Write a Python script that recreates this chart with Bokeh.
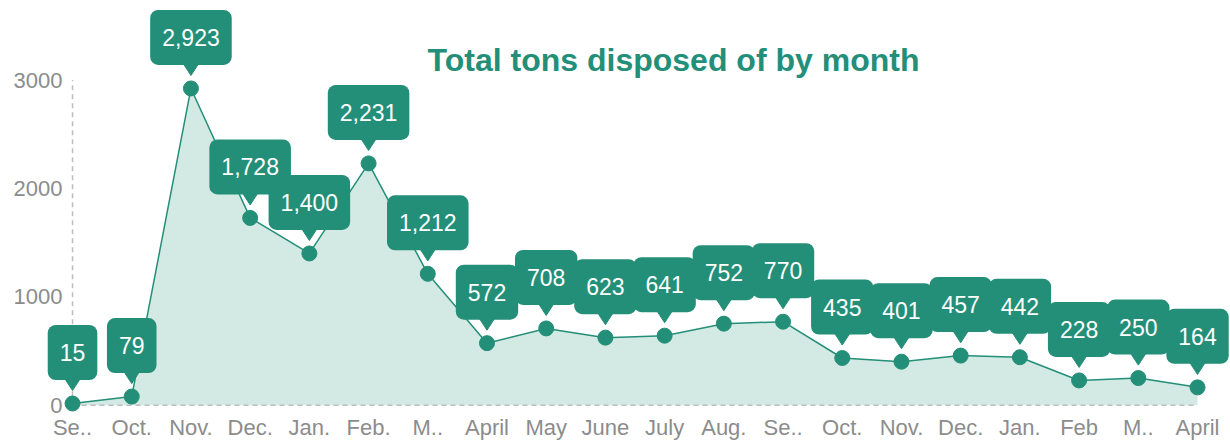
from bokeh.plotting import figure
from bokeh.models import Range1d, FixedTicker, Label
from bokeh.embed import file_html
from bokeh.resources import INLINE

# ---- data ----
months = ["Se..", "Oct.", "Nov.", "Dec.", "Jan.", "Feb.", "M..", "April", "May", "June",
          "July", "Aug.", "Se..", "Oct.", "Nov.", "Dec.", "Jan.", "Feb", "M..", "April"]
tons = [15, 79, 2923, 1728, 1400, 2231, 1212, 572, 708, 623,
        641, 752, 770, 435, 401, 457, 442, 228, 250, 164]
y_ticks = [0, 1000, 2000, 3000]
title_text = "Total tons disposed of by month"

# ---- style ----
TEAL = "#238F78"
AREA = "#D3E9E3"
GRAY = "#8C8C8C"
DASH = "#BDBDBD"
FONT = "Liberation Sans"

W, H = 1230, 442
BL, BR, BT, BB = 42, 0, 0, 28
x_start, x_end = -0.507, 19.557
y_start, y_end = -68.0, 3734.7
xppu = (W - BL - BR) / (x_end - x_start)
yppu = (H - BT - BB) / (y_end - y_start)

xs = list(range(len(tons)))

p = figure(width=W, height=H, x_range=Range1d(x_start, x_end), y_range=Range1d(y_start, y_end),
           output_backend="svg", toolbar_location=None,
           min_border_left=BL, min_border_right=BR, min_border_top=BT, min_border_bottom=BB)
p.outline_line_color = None
p.xgrid.visible = False
p.ygrid.visible = False
p.background_fill_color = "white"
p.border_fill_color = "white"

# area + line
p.varea(x=xs, y1=[0] * len(tons), y2=tons, fill_color=AREA)
p.segment(x0=[xs[0]], y0=[0], x1=[xs[-1]], y1=[0], line_color=DASH, line_width=1.5, line_dash="5 4")
p.segment(x0=[xs[0]], y0=[y_ticks[0]], x1=[xs[0]], y1=[y_ticks[-1]], line_color=DASH, line_width=1.5, line_dash="5 4")
p.line(xs, tons, line_color=TEAL, line_width=1.5)
p.scatter(xs, tons, size=15, fill_color=TEAL, line_color=TEAL)

# callout pointers
tri_x = [[xi - 11 / xppu, xi + 11 / xppu, xi] for xi in xs]
tri_y = [[v + 30 / yppu, v + 30 / yppu, v + 13 / yppu] for v in tons]
p.patches(tri_x, tri_y, fill_color=TEAL, line_color=TEAL)

# callout boxes
for xi, v in zip(xs, tons):
    p.add_layout(Label(x=xi, y=v, y_offset=51, text=f"{v:,}", text_align="center",
                       text_baseline="middle", text_color="white", text_font_size="23px",
                       text_font=FONT, background_fill_color=TEAL,
                       padding=dict(left=12, right=12, top=19, bottom=19), border_radius=8))

# title
p.add_layout(Label(x=(673 - 72) / xppu, y=(406.6 - 70) / yppu, y_offset=10, text=title_text,
                   text_align="center", text_baseline="alphabetic", text_color=TEAL,
                   text_font_size="32px", text_font=FONT, text_font_style="bold"))

# axes
p.yaxis.ticker = FixedTicker(ticks=y_ticks)
p.yaxis.axis_line_color = None
p.yaxis.major_tick_line_color = None
p.yaxis.minor_tick_line_color = None
p.yaxis.major_tick_out = 0
p.yaxis.major_tick_in = 0
p.yaxis.major_label_standoff = -20
p.yaxis.major_label_text_color = GRAY
p.yaxis.major_label_text_font = FONT
p.yaxis.major_label_text_font_size = "22px"

p.xaxis.ticker = FixedTicker(ticks=xs)
p.xaxis.major_label_overrides = {i: m for i, m in zip(xs, months)}
p.xaxis.axis_line_color = None
p.xaxis.major_tick_line_color = None
p.xaxis.minor_tick_line_color = None
p.xaxis.major_tick_out = 0
p.xaxis.major_tick_in = 0
p.xaxis.major_label_standoff = 2
p.xaxis.major_label_text_color = GRAY
p.xaxis.major_label_text_font = FONT
p.xaxis.major_label_text_font_size = "22px"

open("out.html", "w").write(file_html(p, INLINE))
